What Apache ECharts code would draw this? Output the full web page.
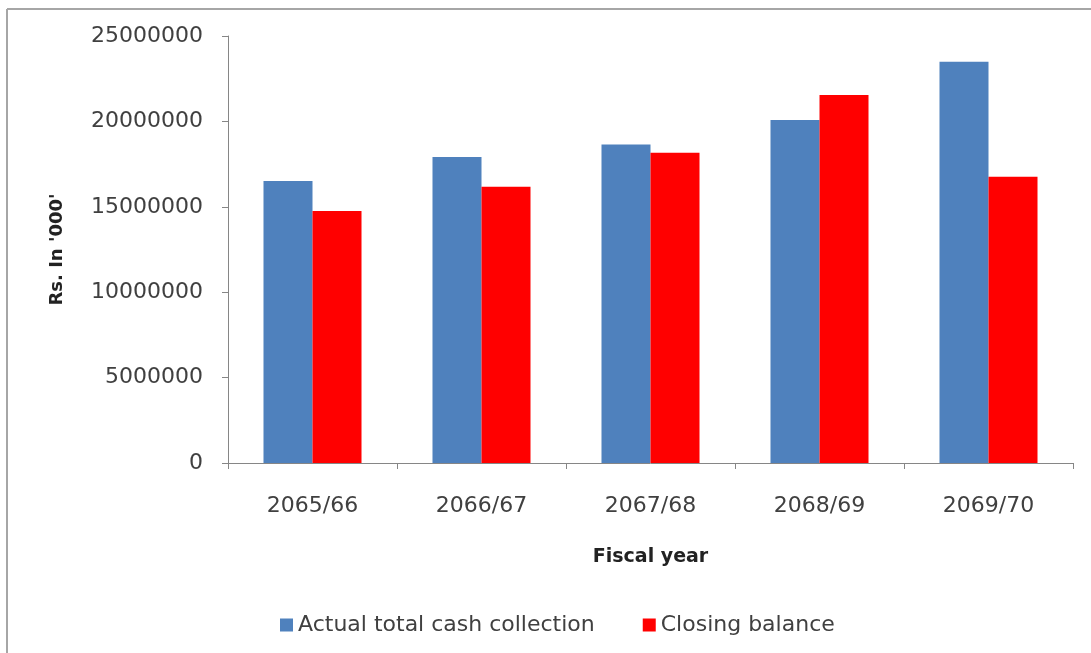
<!DOCTYPE html>
<html>
<head>
<meta charset="utf-8">
<script src="https://cdn.jsdelivr.net/npm/echarts@6/dist/echarts.min.js"></script>
<style>
html,body{margin:0;padding:0;background:#fff;}
#chart{width:1091px;height:653px;}
</style>
</head>
<body>
<div id="chart"></div>
<script>
var categories = ['2065/66', '2066/67', '2067/68', '2068/69', '2069/70'];
var cashCollection = [16510000, 17910000, 18650000, 20080000, 23490000];
var closingBalance = [14750000, 16180000, 18160000, 21540000, 16760000];
var seriesNames = ['Actual total cash collection', 'Closing balance'];
var yTicks = { min: 0, max: 25000000, interval: 5000000 };

var FONT = 'DejaVu Sans';
var chart = echarts.init(document.getElementById('chart'), null, { renderer: 'canvas' });
chart.setOption({
  backgroundColor: '#ffffff',
  animation: false,
  graphic: [
    { type: 'line', shape: { x1: 7, y1: 9, x2: 1091, y2: 9 }, style: { stroke: '#a6a6a6', lineWidth: 2 } },
    { type: 'line', shape: { x1: 7, y1: 9, x2: 7, y2: 653 }, style: { stroke: '#a6a6a6', lineWidth: 2 } }
  ],
  grid: { left: 228, right: 18, top: 36, bottom: 190, containLabel: false },
  legend: {
    left: 275, top: 609,
    itemWidth: 13, itemHeight: 13, itemGap: 48,
    icon: 'rect',
    textStyle: { fontFamily: FONT, fontSize: 22, color: '#404040' },
    data: seriesNames
  },
  xAxis: {
    type: 'category',
    data: categories,
    name: 'Fiscal year',
    nameLocation: 'middle',
    nameGap: 85,
    nameTextStyle: { fontFamily: FONT, fontSize: 19, fontWeight: 'bold', color: '#222' },
    axisLine: { show: true, lineStyle: { color: '#868686', width: 1 } },
    axisTick: { show: true, inside: false, length: 6, alignWithLabel: false, lineStyle: { color: '#868686' } },
    axisLabel: { margin: 32, fontFamily: FONT, fontSize: 22, color: '#404040' },
    splitLine: { show: false }
  },
  yAxis: {
    type: 'value',
    min: yTicks.min, max: yTicks.max, interval: yTicks.interval,
    name: "Rs. In '000'",
    nameLocation: 'middle',
    nameGap: 162,
    nameRotate: 90,
    nameTextStyle: { fontFamily: FONT, fontSize: 18, fontWeight: 'bold', color: '#222' },
    axisLine: { show: true, lineStyle: { color: '#868686', width: 1 } },
    axisTick: { show: true, inside: false, length: 6, lineStyle: { color: '#868686' } },
    axisLabel: { margin: 25, fontFamily: FONT, fontSize: 22, color: '#404040', formatter: function (v) { return String(v); } },
    splitLine: { show: false }
  },
  series: [
    { name: seriesNames[0], type: 'bar', data: cashCollection, barGap: '0%', barCategoryGap: '42%', itemStyle: { color: '#4F81BD' } },
    { name: seriesNames[1], type: 'bar', data: closingBalance, barGap: '0%', barCategoryGap: '42%', itemStyle: { color: '#FF0000' } }
  ]
});
</script>
</body>
</html>
